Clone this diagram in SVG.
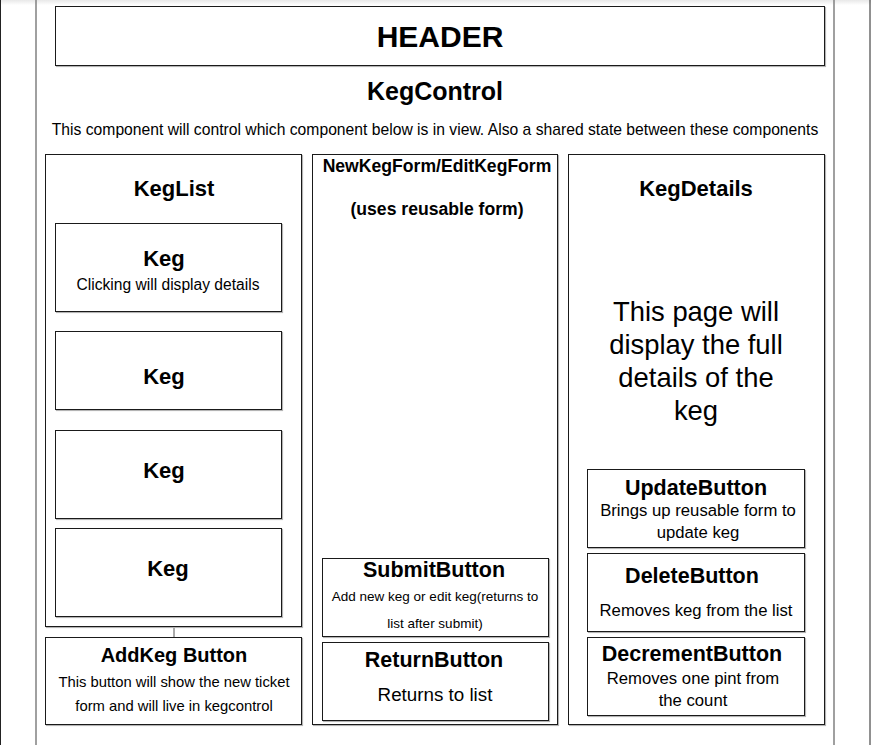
<svg xmlns="http://www.w3.org/2000/svg" width="871" height="745" viewBox="0 0 871 745">
<defs>
<style>
.sh{fill:none;stroke:#b4b4b4;stroke-width:1.2}
.bx{fill:#fff;stroke:#1a1a1a;stroke-width:1}
text{font-family:"Liberation Sans",Arial,sans-serif;fill:#000;text-anchor:middle}
.b{font-weight:bold}
</style>
<linearGradient id="topg" x1="0" y1="0" x2="0" y2="1">
<stop offset="0" stop-color="#e8e8e8"/>
<stop offset="1" stop-color="#ffffff"/>
</linearGradient>
</defs>
<rect x="0" y="0" width="871" height="745" fill="#fff"/>
<rect x="0" y="0" width="871" height="5" fill="url(#topg)"/>
<line x1="0.5" y1="0" x2="0.5" y2="745" stroke="#222" stroke-width="1"/>
<line x1="870" y1="0" x2="870" y2="745" stroke="#222" stroke-width="1"/>
<g id="frame">
<line x1="36" y1="0" x2="36" y2="745" stroke="#808080" stroke-width="1.5"/>
<line x1="834" y1="0" x2="834" y2="745" stroke="#808080" stroke-width="1.5"/>
</g>

<g id="connectors">
<line x1="174" y1="627" x2="174" y2="637" stroke="#555" stroke-width="1"/>
</g>

<g id="header">
<rect class="sh" x="56.5" y="7.5" width="769" height="59"/>
<rect class="bx" x="55.5" y="6.5" width="769" height="59"/>
<text class="b" x="440" y="47" font-size="30">HEADER</text>
</g>

<g id="kegcontrol">
<text class="b" x="435" y="100" font-size="25">KegControl</text>
<text x="435" y="135" font-size="15.7">This component will control which component below is in view. Also a shared state between these components</text>
</g>

<g id="keglist">
<rect class="sh" x="46.5" y="155.5" width="256" height="472"/>
<rect class="bx" x="45.5" y="154.5" width="256" height="472"/>
<text class="b" x="174" y="196" font-size="22">KegList</text>
</g>

<g id="keg1">
<rect class="sh" x="56.5" y="224.5" width="226" height="88"/>
<rect class="bx" x="55.5" y="223.5" width="226" height="88"/>
<text class="b" x="164" y="266" font-size="22">Keg</text>
<text x="168" y="290" font-size="15.6">Clicking will display details</text>
</g>

<g id="keg2">
<rect class="sh" x="56.5" y="332.5" width="226" height="78"/>
<rect class="bx" x="55.5" y="331.5" width="226" height="78"/>
<text class="b" x="164" y="384" font-size="22">Keg</text>
</g>

<g id="keg3">
<rect class="sh" x="56.5" y="431.5" width="226" height="88"/>
<rect class="bx" x="55.5" y="430.5" width="226" height="88"/>
<text class="b" x="164" y="478" font-size="22">Keg</text>
</g>

<g id="keg4">
<rect class="sh" x="56.5" y="529.5" width="226" height="88"/>
<rect class="bx" x="55.5" y="528.5" width="226" height="88"/>
<text class="b" x="168" y="576" font-size="22">Keg</text>
</g>

<g id="addkeg">
<rect class="sh" x="46.5" y="638.5" width="256" height="87"/>
<rect class="bx" x="45.5" y="637.5" width="256" height="87"/>
<text class="b" x="174" y="662" font-size="20">AddKeg Button</text>
<text x="174" y="687" font-size="14.8">This button will show the new ticket</text>
<text x="174" y="711" font-size="14.8">form and will live in kegcontrol</text>
</g>

<g id="newkegform">
<rect class="sh" x="313.5" y="155.5" width="245" height="570"/>
<rect class="bx" x="312.5" y="154.5" width="245" height="570"/>
<text class="b" x="437" y="172" font-size="17.6">NewKegForm/EditKegForm</text>
<text class="b" x="437" y="215" font-size="17.6">(uses reusable form)</text>
</g>

<g id="submitbutton">
<rect class="sh" x="323.5" y="559.5" width="226" height="78"/>
<rect class="bx" x="322.5" y="558.5" width="226" height="78"/>
<text class="b" x="434" y="577" font-size="21.5">SubmitButton</text>
<text x="435" y="601" font-size="13.5">Add new keg or edit keg(returns to</text>
<text x="435" y="628" font-size="13.5">list after submit)</text>
</g>

<g id="returnbutton">
<rect class="sh" x="323.5" y="643.5" width="226" height="78"/>
<rect class="bx" x="322.5" y="642.5" width="226" height="78"/>
<text class="b" x="434" y="666.5" font-size="21.5">ReturnButton</text>
<text x="435" y="701" font-size="18.8">Returns to list</text>
</g>

<g id="kegdetails">
<rect class="sh" x="569.5" y="155.5" width="256" height="570"/>
<rect class="bx" x="568.5" y="154.5" width="256" height="570"/>
<text class="b" x="696" y="196" font-size="22">KegDetails</text>
<text x="696" y="320.5" font-size="27.4">This page will</text>
<text x="696" y="354" font-size="27.4">display the full</text>
<text x="696" y="387" font-size="27.4">details of the</text>
<text x="696" y="420" font-size="27.4">keg</text>
</g>

<g id="updatebutton">
<rect class="sh" x="588.5" y="470.5" width="217" height="78"/>
<rect class="bx" x="587.5" y="469.5" width="217" height="78"/>
<text class="b" x="696" y="494.5" font-size="21.5">UpdateButton</text>
<text x="698" y="516" font-size="16.7">Brings up reusable form to</text>
<text x="698" y="538" font-size="16.7">update keg</text>
</g>

<g id="deletebutton">
<rect class="sh" x="588.5" y="554.5" width="217" height="78"/>
<rect class="bx" x="587.5" y="553.5" width="217" height="78"/>
<text class="b" x="692" y="582.5" font-size="21.5">DeleteButton</text>
<text x="696" y="616" font-size="16.7">Removes keg from the list</text>
</g>

<g id="decrementbutton">
<rect class="sh" x="588.5" y="638.5" width="217" height="78"/>
<rect class="bx" x="587.5" y="637.5" width="217" height="78"/>
<text class="b" x="692" y="661" font-size="21.5">DecrementButton</text>
<text x="693" y="684" font-size="16.7">Removes one pint from</text>
<text x="693" y="706" font-size="16.7">the count</text>
</g>
</svg>
